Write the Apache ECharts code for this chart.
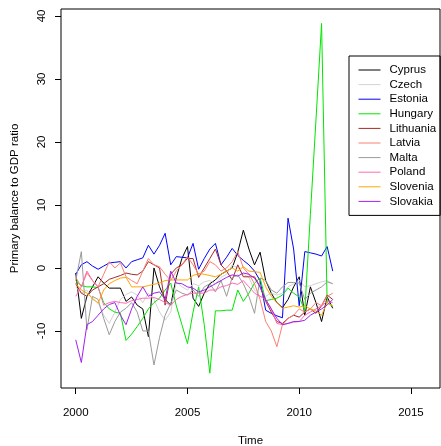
<!DOCTYPE html>
<html>
<head>
<meta charset="utf-8">
<script src="https://cdn.jsdelivr.net/npm/echarts@6/dist/echarts.min.js"></script>
<style>
html,body{margin:0;padding:0;background:#fff;}
#c{width:441px;height:446px;}
</style>
</head>
<body>
<div id="c"></div>
<script>
const time = [2000,2000.25,2000.5,2000.75,2001,2001.25,2001.5,2001.75,2002,2002.25,2002.5,2002.75,
2003,2003.25,2003.5,2003.75,2004,2004.25,2004.5,2004.75,2005,2005.25,2005.5,2005.75,
2006,2006.25,2006.5,2006.75,2007,2007.25,2007.5,2007.75,2008,2008.25,2008.5,2008.75,
2009,2009.25,2009.5,2009.75,2010,2010.25,2010.5,2010.75,2011,2011.25,2011.5];

const countries = ["Cyprus","Czech","Estonia","Hungary","Lithuania","Latvia","Malta","Poland","Slovenia","Slovakia"];
const colors = ["#000000","#d3d3d3","#0000ff","#00e600","#a52a2a","#fa8072","#9a9a9a","#ff69b4","#ffa500","#a020f0"];

const cyprus = [-0.8,-8,-4.5,-3,-1.4,-2.4,-3.2,-3.2,-3.2,-5.3,-4.6,-5.9,-6.5,-10.9,0,-3,-5,-5.9,-1.5,1.5,3.4,-4.8,-6.1,-4,-2.5,-1.9,-1,-0.5,0,2.5,6.0,3,0.5,2.5,-2,-4,-5.5,-6.3,-5,-3,-1.4,-7.5,-3,-5.5,-8.5,-4.6,-6.4];
const czech = [-3,-4,-3.5,-5,-5.5,-7.5,-8.8,-7,-5,-4.2,-3.8,-4.3,-5.5,-4,-5,-7,-8.3,-7,-2.2,-3,-3.5,-2.5,-2.8,-2.2,-2.0,-2.5,-1.5,-1.0,0.5,0,-1,-1.5,-3.5,-4.5,-4.5,-4.0,-4.3,-4,-3,-2.5,-1.9,-3,-2.8,-2.5,-2.2,-2.0,-2.5];
const estonia = [-1.0,0.5,1.0,0.3,-0.2,0.3,0.8,0.9,1.0,0,1.0,1.3,1.6,3.6,2.2,3.6,5.5,0.5,1.8,1.7,1.6,3.9,-0.2,1.5,3.0,3.9,0.5,1.7,3.1,2.0,1.2,0.5,-0.5,-2,-6.7,-7.2,-7.6,-7.9,7.9,3,-6,2.6,2.4,2.2,1.9,3.4,-0.5];
const hungary = [-2,-2.8,-3.0,-3.0,-3.1,-5.5,-6.5,-7.0,-7.2,-11.5,-10.5,-9.3,-8,-6.5,-5.5,-4.8,-3.5,-2.4,-6,-9,-12,-7,-3,-9,-16.7,-6.8,-6.8,-6.7,-6.7,-3.5,-5.3,-4,-2.4,-1.6,-5.2,-5,-4.8,-4.3,-3.2,-4,-4.6,-6.8,8.5,23.5,38.8,-5.5,-6.1];
const lithuania = [-2.5,-4,-4.5,-3.5,-3,-2.5,-1.8,-1.5,-1.2,-0.8,-1,-1.1,-0.5,1,0.5,0,-5.9,-1,0,0.5,1.5,1.5,-1.5,0,1.5,3,0.5,-0.5,-1.9,0.5,-1.4,-1.4,-1.4,-3,-5.3,-7,-8.5,-8.8,-8,-7.5,-7.8,-7,-6.5,-7.2,-6,-4.3,-5];
const latvia = [-1.5,-3,-0.8,-2,-3,-1,1.0,0,0.8,-1.4,-2,-2.5,-0.5,1.5,0.5,0.2,-1,-2,-0.5,0.5,1.8,0.5,-1,-0.5,1,0.5,-0.5,0,1,2.6,0,-1,-2.5,-5,-8.5,-10,-12.5,-9,-8,-7.5,-6.5,-7,-6.5,-5.5,-6,-4.5,-4];
const malta = [-2,2.6,-9.8,-4.5,-5,-8,-10.6,-8.5,-7,-6.4,-5.5,-7,-10,-10,-15.4,-11,-7.5,-5.6,-3.5,-4,-4.3,-3.5,-4.5,-3,-2.5,-3.8,-2,-4.5,-1.5,-1.1,-2.5,-4.5,-7.2,-1.6,-2,-3.5,-4,-3,-2.3,-2.3,-2.4,-5,-4,-3.5,-3,-2.2,-2.5];
const poland = [-4.5,-3,-0.5,-2,-3,-5.9,-5.5,-5.3,-5.5,-5.6,-5.2,-5,-4.8,-4.8,-4.7,-5,-5.5,-5.9,-5,-4.5,-4.2,-4,-4,-4,-3.5,-3.5,-3,-2.8,-2.4,-2.6,-2,-3,-4,-4.5,-5,-6.5,-8.8,-9,-8.8,-8.6,-8.5,-7.5,-7,-6.5,-6,-5.3,-5.5];
const slovenia = [-2.5,-3.5,-4,-4.8,-5.6,-3.5,-2.5,-2,-1.6,-1.5,-3,-3,-3,-2.8,-2.6,-2.4,-2,-1.9,-1.9,-1.9,-1.9,-1.2,-0.9,-1,-1.2,-1.4,-1,-0.5,0,-0.5,0.2,-0.5,-0.6,-0.7,-3,-4.5,-5.5,-6.4,-6.2,-6,-6.2,-6,-6.5,-6.8,-7.5,-5.5,-6];
const slovakia = [-11.4,-15,-9,-8.5,-7.5,-6.5,-5.8,-5.5,-7.5,-9,-6.5,-4.5,-3,-4.5,-4,-3.8,-5,-0.5,-2.4,-2.5,-3,-3.2,-3.8,-3.5,-3,-2.5,-2,-1.5,-1.1,-1.3,-0.8,-1,-1.6,-3,-5,-6.5,-8,-9,-8.8,-8.5,-8.5,-8.3,-7.5,-7,-6.5,-5.9,-5];

const seriesValues = [cyprus,czech,estonia,hungary,lithuania,latvia,malta,poland,slovenia,slovakia];
const xTicks = [2000,2005,2010,2015];
const yTicks = [-10,0,10,20,30,40];

const FONT = '"Liberation Sans", Arial, Helvetica, sans-serif';
const chart = echarts.init(document.getElementById('c'), null, {renderer:'canvas'});
chart.setOption({
  animation:false,
  backgroundColor:'#ffffff',
  textStyle:{fontFamily:FONT},
  grid:{left:61, top:9, right:1, bottom:58, show:true, borderColor:'#000', borderWidth:1, backgroundColor:'transparent', containLabel:false, outerBoundsMode:'none'},
  legend:{
    orient:'vertical', left:349, top:56,
    data:countries,
    borderColor:'#000', borderWidth:1, borderRadius:0,
    padding:[8,4,8,9],
    itemWidth:22, itemHeight:14, itemGap:2.6,
    itemStyle:{opacity:0, color:'transparent', borderWidth:0},
    lineStyle:{width:1, opacity:1},
    textStyle:{fontFamily:FONT, fontSize:11.5, color:'#000', padding:[0,0,0,4]},
    inactiveColor:'#ccc'
  },
  xAxis:{
    type:'value', min:1999.34, max:2016.3,
    name:'Time', nameLocation:'middle', nameGap:47,
    nameTextStyle:{fontFamily:FONT, fontSize:11.5, color:'#000'},
    axisLine:{show:false, onZero:false},
    splitLine:{show:false},
    axisTick:{show:true, length:6, inside:false, customValues:xTicks, lineStyle:{color:'#000', width:1}},
    axisLabel:{customValues:xTicks, margin:19, fontSize:11.5, color:'#000', fontFamily:FONT, formatter:(v)=>String(v)}
  },
  yAxis:{
    type:'value', min:-19.05, max:41.1,
    name:'Primary balance to GDP ratio', nameLocation:'middle', nameGap:40.5, nameRotate:90,
    nameTextStyle:{fontFamily:FONT, fontSize:11.5, color:'#000'},
    axisLine:{show:false, onZero:false},
    splitLine:{show:false},
    axisTick:{show:true, length:6, inside:false, customValues:yTicks, lineStyle:{color:'#000', width:1}},
    axisLabel:{customValues:yTicks, margin:13, rotate:90, fontSize:11.5, color:'#000', fontFamily:FONT, formatter:(v)=>String(v)}
  },
  series: countries.map((name, k) => ({
    name: name,
    type:'line',
    data: time.map((t, i) => [t, seriesValues[k][i]]),
    symbol:'none',
    showSymbol:false,
    lineStyle:{color:colors[k], width:1},
    itemStyle:{color:colors[k]},
    color:colors[k],
    clip:true
  }))
});
</script>
</body>
</html>
